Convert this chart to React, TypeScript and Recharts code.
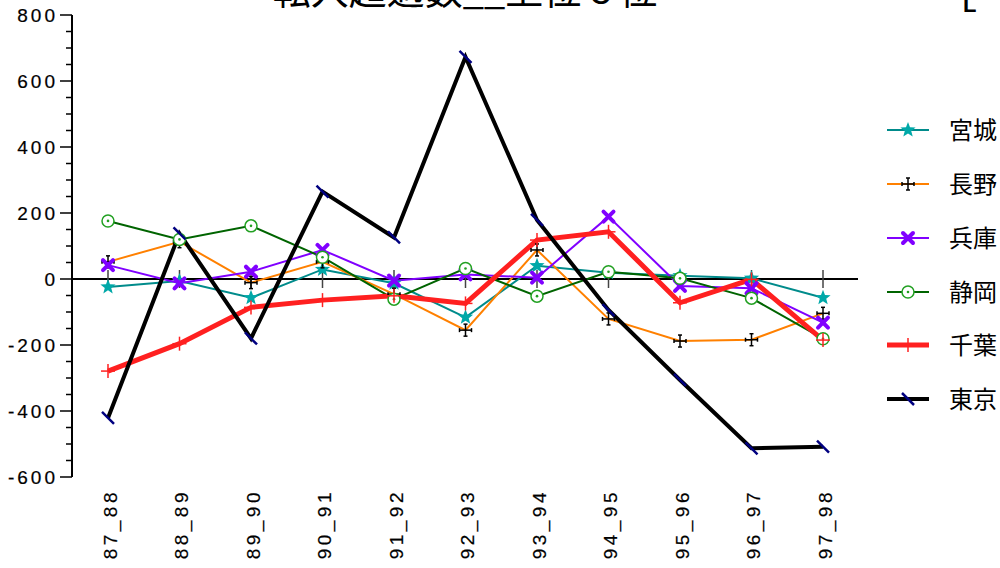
import React from "react";
import { LineChart, Line, XAxis, YAxis, ReferenceLine, ReferenceDot } from "recharts";

const categories = ["87_88", "88_89", "89_90", "90_91", "91_92", "92_93", "93_94", "94_95", "95_96", "96_97", "97_98"];

const miyagi = [-24, -6, -57, 29, -13, -116, 40, 19, 10, 2, -57];
const nagano = [52, 113, -11, 52, -46, -155, 88, -121, -188, -184, -104];
const hyogo = [42, -13, 22, 88, -5, 14, 4, 189, -21, -28, -132];
const shizuoka = [176, 120, 161, 66, -61, 32, -52, 22, 2, -58, -181];
const chiba = [-279, -196, -86, -64, -51, -74, 118, 143, -72, -1, -185];
const tokyo = [-421, 138, -180, 265, 126, 673, 179, -94, -306, -513, -508];

const yTicks = [-600, -550, -500, -450, -400, -350, -300, -250, -200, -150, -100, -50, 0, 50, 100, 150, 200, 250, 300, 350, 400, 450, 500, 550, 600, 650, 700, 750, 800];

const data = categories.map((c, i) => ({
  name: c,
  miyagi: miyagi[i],
  nagano: nagano[i],
  hyogo: hyogo[i],
  shizuoka: shizuoka[i],
  chiba: chiba[i],
  tokyo: tokyo[i],
}));

const tickFont = "'Liberation Sans', Arial, sans-serif";
const cjkFont = "'Noto Sans CJK JP', sans-serif";

function starPoints(cx: number, cy: number, ro: number, ri: number) {
  const pts: string[] = [];
  for (let k = 0; k < 10; k++) {
    const r = k % 2 === 0 ? ro : ri;
    const a = -Math.PI / 2 + (k * Math.PI) / 5;
    pts.push(`${cx + r * Math.cos(a)},${cy + r * Math.sin(a)}`);
  }
  return pts.join(" ");
}

type MarkerKind = "star" | "cross" | "x" | "circle" | "plus" | "slash";

function Marker({ kind, cx, cy }: { kind: MarkerKind; cx: number; cy: number }) {
  if (kind === "star") return <polygon points={starPoints(cx, cy, 8, 3.4)} fill="#00a8a8" />;
  if (kind === "cross")
    return (
      <g stroke="#000" strokeWidth={1.5}>
        <line x1={cx} y1={cy - 6} x2={cx} y2={cy + 6} />
        <line x1={cx - 6} y1={cy} x2={cx + 6} y2={cy} />
        <line x1={cx - 2} y1={cy - 6} x2={cx + 2} y2={cy - 6} />
        <line x1={cx - 2} y1={cy + 6} x2={cx + 2} y2={cy + 6} />
        <line x1={cx - 6} y1={cy - 2} x2={cx - 6} y2={cy + 2} />
        <line x1={cx + 6} y1={cy - 2} x2={cx + 6} y2={cy + 2} />
      </g>
    );
  if (kind === "x")
    return (
      <g stroke="#8000ff" strokeWidth={4} strokeLinecap="round">
        <line x1={cx - 5} y1={cy - 5} x2={cx + 5} y2={cy + 5} />
        <line x1={cx - 5} y1={cy + 5} x2={cx + 5} y2={cy - 5} />
      </g>
    );
  if (kind === "circle")
    return (
      <g>
        <circle cx={cx} cy={cy} r={6} fill="#fff" stroke="#22a022" strokeWidth={1.5} />
        <circle cx={cx} cy={cy} r={1.3} fill="#22a022" />
      </g>
    );
  if (kind === "plus")
    return (
      <g stroke="#ff2020" strokeWidth={1.5}>
        <line x1={cx} y1={cy - 7} x2={cx} y2={cy + 7} />
        <line x1={cx - 7} y1={cy} x2={cx + 7} y2={cy} />
      </g>
    );
  return <line x1={cx - 6} y1={cy - 6} x2={cx + 6} y2={cy + 6} stroke="#000080" strokeWidth={2.5} />;
}

const series = [
  { key: "miyagi", label: "宮城", color: "#008b8b", width: 2, marker: "star" as MarkerKind },
  { key: "nagano", label: "長野", color: "#ff8000", width: 2, marker: "cross" as MarkerKind },
  { key: "hyogo", label: "兵庫", color: "#8000ff", width: 2, marker: "x" as MarkerKind },
  { key: "shizuoka", label: "静岡", color: "#006400", width: 2, marker: "circle" as MarkerKind },
  { key: "chiba", label: "千葉", color: "#ff2020", width: 5, marker: "plus" as MarkerKind },
  { key: "tokyo", label: "東京", color: "#000000", width: 4, marker: "slash" as MarkerKind },
];

function YTick(props: any) {
  const { x, y, payload } = props;
  const major = payload.value % 200 === 0;
  return (
    <g>
      <line x1={x - (major ? 12 : 6)} y1={y} x2={x} y2={y} stroke="#000" strokeWidth={1.5} />
      {major && (
        <text
          x={x - 14}
          y={y}
          dy="0.36em"
          textAnchor="end"
          fontFamily={tickFont}
          fontSize={19}
          letterSpacing={3}
          fill="#000"
          stroke="#000"
          strokeWidth={0.2}
        >
          {payload.value}
        </text>
      )}
    </g>
  );
}

function XTick(props: any) {
  const { x, y, payload } = props;
  return (
    <text
      transform={`translate(${x + 2},${y + 12}) rotate(-90)`}
      textAnchor="end"
      dominantBaseline="central"
      fontFamily={tickFont}
      fontSize={19}
      letterSpacing={3.5}
      fill="#000"
      stroke="#000"
      strokeWidth={0.2}
    >
      {payload.value}
    </text>
  );
}

function LegendBox() {
  const rowY = [130, 184, 238, 292, 345, 399];
  return (
    <svg width={130} height={568} style={{ position: "absolute", left: 870, top: 0 }}>
      {series.map((s, i) => (
        <g key={s.key}>
          <line x1={17} y1={rowY[i]} x2={59} y2={rowY[i]} stroke={s.color} strokeWidth={s.width} />
          <Marker kind={s.marker} cx={38} cy={rowY[i]} />
          <text x={79} y={rowY[i]} dy="0.36em" fontFamily={cjkFont} fontSize={24} fill="#000">
            {s.label}
          </text>
        </g>
      ))}
    </svg>
  );
}

export default function App() {
  return (
    <div style={{ position: "absolute", left: 0, top: 0, width: 1000, height: 568, background: "#fff" }}>
      <LineChart width={1000} height={568} data={data} margin={{ top: 15, right: 142, bottom: 0, left: 0 }}>
        <text x={465} y={4} textAnchor="middle" fontFamily={cjkFont} fontSize={38} fill="#000">
          転入超過数__上位６位
        </text>
        <text x={963} y={12} fontFamily={tickFont} fontWeight="bold" fontSize={22} fill="#000">
          L
        </text>
        <XAxis
          dataKey="name"
          padding={{ left: 36, right: 35 }}
          axisLine={false}
          tickLine={false}
          tickSize={0}
          tickMargin={0}
          interval={0}
          height={91}
          tick={<XTick />}
        />
        <YAxis
          type="number"
          domain={[-600, 800]}
          ticks={yTicks}
          interval={0}
          width={72}
          tickSize={0}
          tickMargin={0}
          tickLine={false}
          axisLine={{ stroke: "#000", strokeWidth: 2 }}
          tick={<YTick />}
        />
        <ReferenceLine y={0} stroke="#000" strokeWidth={2} />
        {categories.map((c) => (
          <ReferenceDot
            key={c}
            x={c}
            y={0}
            shape={(p: any) => <line x1={p.cx} y1={p.cy - 9} x2={p.cx} y2={p.cy + 9} stroke="#444" strokeWidth={1.5} />}
          />
        ))}
        {series.map((s) => (
          <Line
            key={s.key}
            type="linear"
            dataKey={s.key}
            stroke={s.color}
            strokeWidth={s.width}
            isAnimationActive={false}
            dot={(p: any) => <Marker key={`${s.key}-${p.index}`} kind={s.marker} cx={p.cx} cy={p.cy} />}
            activeDot={false}
          />
        ))}
      </LineChart>
      <LegendBox />
    </div>
  );
}
